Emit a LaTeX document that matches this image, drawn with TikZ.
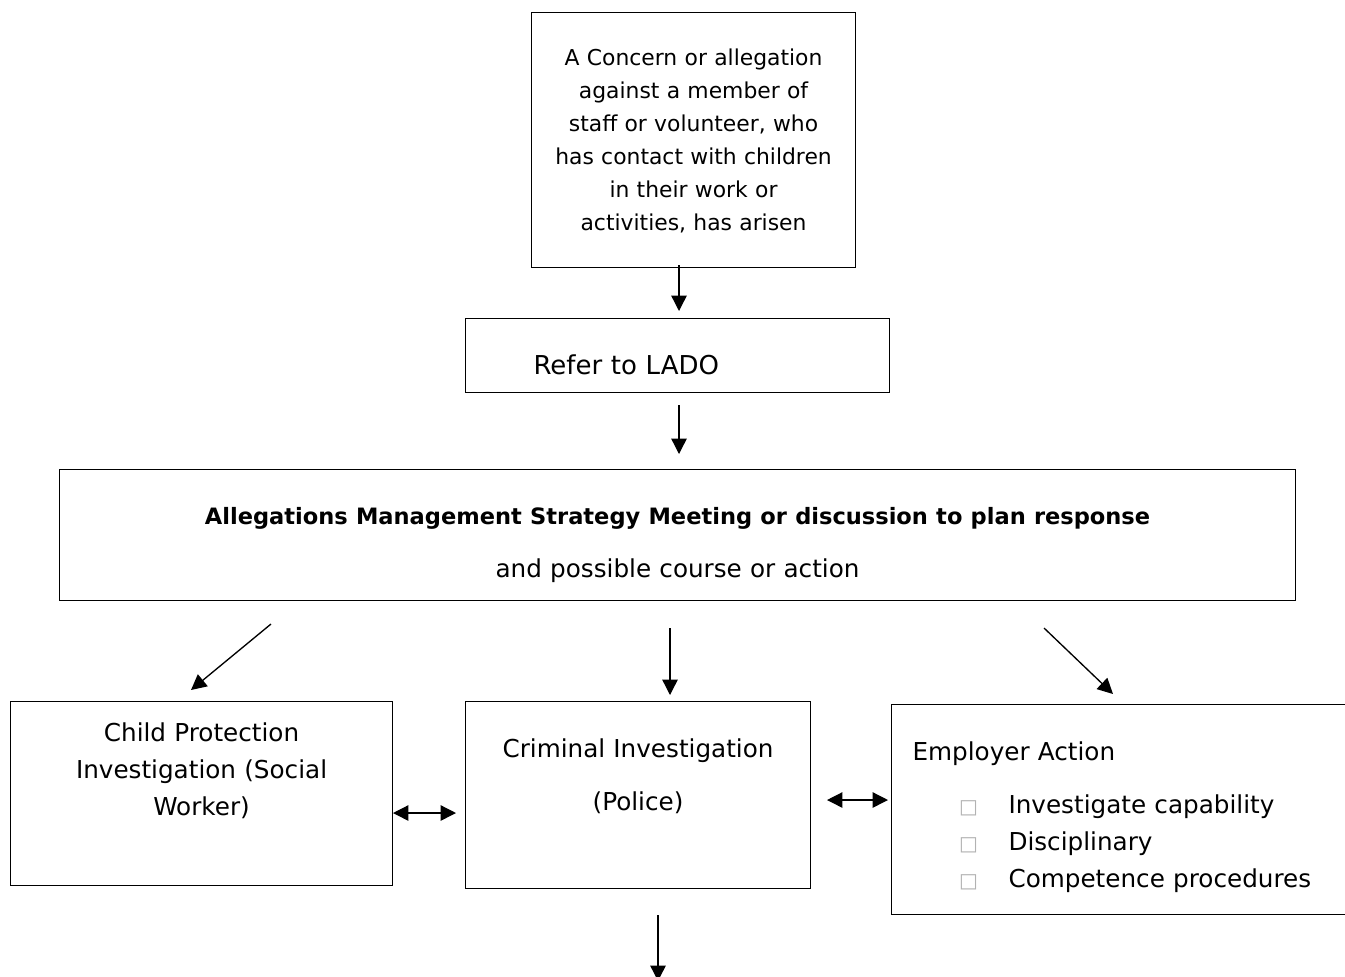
\documentclass[tikz,border=0pt]{standalone}
\usepackage{fontspec}
\setmainfont{DejaVu Sans}
\usetikzlibrary{positioning,arrows.meta}
\tikzstyle{box} = [rectangle, draw=black, line width=0.8pt, inner sep=0pt, anchor=north west, font=\fontsize{18.5}{24.75}\selectfont]
\tikzstyle{arrow} = [line width=1pt, -{Triangle[length=11.5pt,width=11.5pt]}]
\tikzstyle{twoway} = [line width=1pt, {Triangle[length=11.5pt,width=11.5pt]}-{Triangle[length=11.5pt,width=11.5pt]}]
\newcommand{\emptymark}{\makebox[72pt][l]{\hspace*{35pt}{\color{gray!60}\fontsize{15}{15}\selectfont □}}}

\begin{document}
\begin{tikzpicture}[x=0.75pt, y=-0.75pt]

        \useasboundingbox (0,0) rectangle (1345,976);
        \clip (0,0) rectangle (1345,976);

        \node (concern) [box, text width=243pt, align=center, text height=39.75pt, text depth=151.5pt, font=\fontsize{16.4}{24.75}\selectfont] at (531,12) {A Concern or allegation\\against a member of\\staff or volunteer, who\\has contact with children\\in their work or\\activities, has arisen};
        \node (lado) [box, inner xsep=51pt, text width=216pt, align=left, text height=42pt, text depth=13.5pt, font=\fontsize{19.5}{24.75}\selectfont] at (465,318) {Refer to LADO};
        \node (meeting) [box, text width=927pt, align=center, text height=41.25pt, text depth=57pt] at (59,469) {{\fontsize{16.9}{24.75}\selectfont\bfseries Allegations Management Strategy Meeting or discussion to plan response}\\[15pt]and possible course or action};

        \node (childprot) [box, text width=286.5pt, align=center, text height=30pt, text depth=108pt, font=\fontsize{18.5}{27.75}\selectfont] at (10,701) {Child Protection\\Investigation (Social\\Worker)};
        \node (criminal) [box, text width=258.75pt, align=center, text height=42pt, text depth=98.25pt] at (465,701) {Criminal Investigation\\[15pt](Police)};
        \node (employer) [box, inner xsep=15.75pt, text width=324pt, align=left, text height=42pt, text depth=115.5pt, font=\fontsize{18.5}{27.75}\selectfont] at (891,704) {Employer Action\\[12pt]\emptymark Investigate capability\\\emptymark Disciplinary\\\emptymark Competence procedures};

        % arrow ends
        \coordinate (c1) at (679,265);
        \coordinate (c2) at (679,311);
        \coordinate (c3) at (679,405);
        \coordinate (c4) at (679,454);
        \coordinate (c5) at (271,624);
        \coordinate (c6) at (191,690);
        \coordinate (c7) at (670,628);
        \coordinate (c8) at (670,695);
        \coordinate (c9) at (1044,628);
        \coordinate (c10) at (1113,694);
        \coordinate (c11) at (393,813);
        \coordinate (c12) at (456,813);
        \coordinate (c13) at (827,800);
        \coordinate (c14) at (888,800);
        \coordinate (c15) at (658,915);
        \coordinate (c16) at (658,981);

        \draw [arrow] (c1) -- (c2);
        \draw [arrow] (c3) -- (c4);
        \draw [arrow] (c5) -- (c6);
        \draw [arrow] (c7) -- (c8);
        \draw [arrow] (c9) -- (c10);
        \draw [twoway] (c11) -- (c12);
        \draw [twoway] (c13) -- (c14);
        \draw [arrow] (c15) -- (c16);

\end{tikzpicture}
\end{document}
